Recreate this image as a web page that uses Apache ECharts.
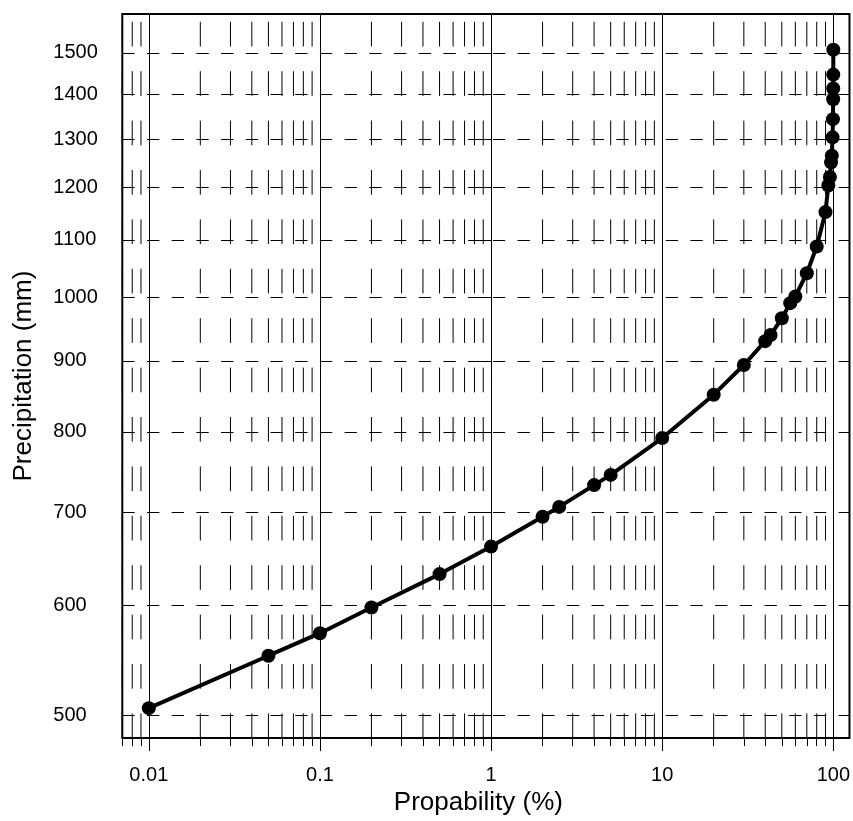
<!DOCTYPE html>
<html>
<head>
<meta charset="utf-8">
<script src="https://cdn.jsdelivr.net/npm/echarts@6/dist/echarts.min.js"></script>
<style>
html,body{margin:0;padding:0;background:#fff;}
#chart{width:853px;height:821px;}
</style>
</head>
<body>
<div id="chart"></div>
<script>
// ---- data ----
const probability = [0.01, 0.05, 0.1, 0.2, 0.5, 1, 2, 2.5, 4, 5, 10, 20, 30, 40, 43, 50, 56, 60, 70, 80, 90, 93.5, 95.5, 97, 98, 99, 99.5, 99.8, 99.9, 99.95, 99.99];
const precipitation = [506, 552, 573, 598, 632, 661.5, 695, 706.5, 732.5, 745, 792, 851, 894, 930, 939.5, 966, 990.5, 1001.5, 1041, 1088, 1152, 1204, 1221, 1251, 1265, 1304, 1344, 1389, 1414, 1447, 1508];

const xTickValues = [0.01, 0.1, 1, 10, 100];
const xTickLabels = ['0.01', '0.1', '1', '10', '100'];
const xMinorValues = [0.007, 0.008, 0.009,
  0.02, 0.03, 0.04, 0.05, 0.06, 0.07, 0.08, 0.09,
  0.2, 0.3, 0.4, 0.5, 0.6, 0.7, 0.8, 0.9,
  2, 3, 4, 5, 6, 7, 8, 9,
  20, 30, 40, 50, 60, 70, 80, 90];
const yTickValues = [500, 600, 700, 800, 900, 1000, 1100, 1200, 1300, 1400, 1500];
const yTickLabels = ['500', '600', '700', '800', '900', '1000', '1100', '1200', '1300', '1400', '1500'];

const xRange = [0.007, 124.3];
const yRange = [481.5, 1600];

// ---- build options ----
const L = Math.log10;
const xMin = L(xRange[0]), xMax = L(xRange[1]);
const yMin = L(yRange[0]), yMax = L(yRange[1]);

function nearestLabel(v, vals, labels) {
  let best = 0, bd = Infinity;
  vals.forEach((t, i) => { const d = Math.abs(L(t) - v); if (d < bd) { bd = d; best = i; } });
  return labels[best];
}

const FONT = 'Liberation Sans, Arial, Helvetica, sans-serif';

const minorSeries = xMinorValues.map(v => ({
  type: 'line',
  data: [[L(v), yMin], [L(v), yMax]],
  showSymbol: false,
  symbol: 'none',
  silent: true,
  animation: false,
  z: 1,
  lineStyle: { color: '#000', width: 1, type: [24.7, 24.7] }
}));

const option = {
  animation: false,
  grid: {
    left: 122.3, top: 14, right: 0, bottom: 77.7,
    show: true, borderColor: '#000', borderWidth: 2, backgroundColor: 'transparent'
  },
  xAxis: [{
    type: 'value',
    min: xMin, max: xMax,
    position: 'bottom',
    name: 'Propability (%)',
    nameLocation: 'middle',
    nameGap: 50,
    nameTextStyle: { fontSize: 26, color: '#000', fontFamily: FONT, padding: [0, 15, 0, 0] },
    axisLine: { show: false },
    axisTick: { show: true, length: 13, inside: false, customValues: xTickValues.map(L), lineStyle: { color: '#000', width: 1 } },
    axisLabel: {
      show: true, customValues: xTickValues.map(L), margin: 27,
      fontSize: 20, color: '#000', fontFamily: FONT,
      formatter: v => nearestLabel(v, xTickValues, xTickLabels)
    },
    splitLine: { show: true, lineStyle: { color: '#000', width: 1, type: 'solid' } }
  }, {
    type: 'value',
    min: xMin, max: xMax,
    position: 'bottom',
    axisLine: { show: false },
    axisTick: { show: true, length: 8, customValues: xMinorValues.map(L), lineStyle: { color: '#000', width: 1 } },
    axisLabel: { show: false },
    splitLine: { show: false }
  }],
  yAxis: {
    type: 'value',
    min: yMin, max: yMax,
    name: 'Precipitation (mm)',
    nameLocation: 'middle',
    nameRotate: 90,
    nameGap: 85,
    nameTextStyle: { fontSize: 26, color: '#000', fontFamily: FONT },
    axisLine: { show: false },
    axisTick: { show: true, length: 12, customValues: yTickValues.map(L), lineStyle: { color: '#000', width: 1 } },
    axisLabel: {
      show: true, customValues: yTickValues.map(L), margin: 69, align: 'left',
      fontSize: 20, color: '#000', fontFamily: FONT,
      formatter: v => nearestLabel(v, yTickValues, yTickLabels)
    },
    splitLine: { show: true, lineStyle: { color: '#000', width: 1, type: [12.35, 12.35] } }
  },
  series: minorSeries.concat([{
    type: 'line',
    name: 'Precipitation',
    data: probability.map((p, i) => [L(p), L(precipitation[i])]),
    symbol: 'circle',
    symbolSize: 14,
    showSymbol: true,
    z: 5,
    lineStyle: { color: '#000', width: 4 },
    itemStyle: { color: '#000', borderWidth: 0 },
    animation: false
  }])
};

const chart = echarts.init(document.getElementById('chart'), null, { renderer: 'canvas' });
chart.setOption(option);
</script>
</body>
</html>
